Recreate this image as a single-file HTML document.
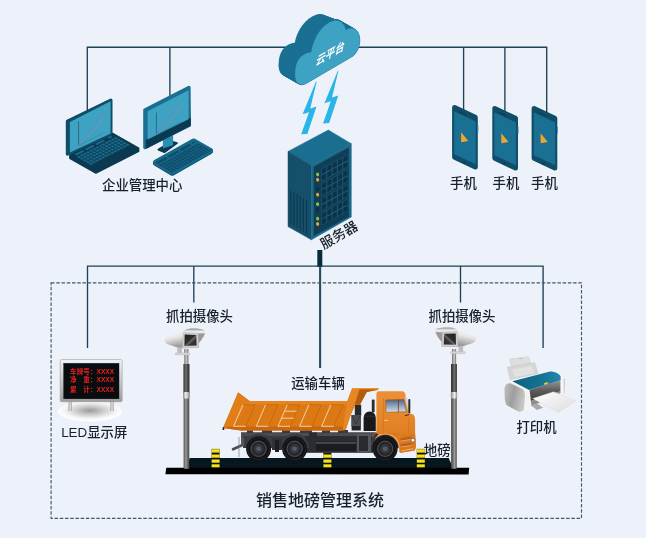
<!DOCTYPE html>
<html lang="zh-CN">
<head>
<meta charset="utf-8">
<title>销售地磅管理系统</title>
<style>
html,body{margin:0;padding:0;background:#edf2fa;}
body{width:646px;height:538px;overflow:hidden;position:relative;font-family:"Liberation Sans","Noto Sans CJK SC",sans-serif;}
svg{position:absolute;left:0;top:0;display:block;}
text{font-family:"Liberation Sans","Noto Sans CJK SC",sans-serif;fill:#18202a;}
#labels,#cloudtxt,#ledtxt{filter:brightness(1.001);}
</style>
</head>
<body>
<svg width="646" height="538" viewBox="0 0 646 538">
<rect width="646" height="538" fill="#edf2fa"/>

<!-- ===== connector lines ===== -->
<g id="lines" fill="none" stroke="#1b4255" stroke-width="1.35">
  <path d="M87.3 121V47.25H546.7V117"/>
  <path d="M169.9 100V47.25"/>
  <path d="M463.6 47.25V110"/>
  <path d="M504.9 47.25V117"/>
  <path d="M87.5 348V266.15H543.1V348"/>
  <path d="M193.8 266.15V302.5"/>
  <path d="M460.5 266.15V302.5"/>
</g>
<path d="M319.8 250V266.8" stroke="#062b3d" stroke-width="5" fill="none"/>
<path d="M320.1 266V368" stroke="#264c5f" stroke-width="2.1" fill="none"/>

<!-- dashed frame -->
<rect x="51.1" y="282.8" width="530.4" height="235.5" fill="none" stroke="#3f5b69" stroke-width="1.15" stroke-dasharray="3.5 1.72"/>

<!-- ===== labels ===== -->
<g id="labels"><g font-size="13.4" font-weight="500" text-anchor="middle">
  <text x="142.2" y="189.5">企业管理中心</text>
  <text x="463.5" y="188">手机</text>
  <text x="506" y="188">手机</text>
  <text x="544.5" y="188">手机</text>
  <text x="199.5" y="320.8">抓拍摄像头</text>
  <text x="462" y="320.8">抓拍摄像头</text>
  <text x="94.3" y="436.5">LED显示屏</text>
  <text x="318" y="387.5">运输车辆</text>
  <text x="437.2" y="454.8">地磅</text>
  <text x="536.5" y="432">打印机</text>
</g>
<text x="320" y="505.5" font-size="16" font-weight="500" text-anchor="middle">销售地磅管理系统</text>
<text x="0" y="0" font-size="13.6" font-weight="500" text-anchor="middle" transform="translate(341.3 239.2) rotate(-30)">服务器</text></g>

<g id="cloud">
<g fill="#1a7093" stroke="#1a7093" stroke-width="0.6">
<path d="M283.30 75.00C280.30 73.70 278.40 68.70 279.00 62.70C279.60 52.70 283.80 44.20 295.10 43.00C296.80 31.77 304.80 18.40 316.80 14.90C323.30 13.10 328.10 17.40 329.70 24.06C333.30 17.70 338.80 18.20 341.80 23.20C345.30 29.70 343.80 39.70 337.30 46.50L290.30 74.00C287.80 75.50 285.30 75.90 283.30 75.00Z"/>
<path d="M283.78 75.27C280.78 73.97 278.88 68.97 279.48 62.97C280.08 52.97 284.28 44.47 295.58 43.27C297.28 32.01 305.28 18.58 317.28 15.08C323.78 13.28 328.58 17.58 330.18 24.24C333.78 17.97 339.28 18.47 342.28 23.47C345.78 29.97 344.28 39.97 337.78 46.77L290.78 74.27C288.28 75.77 285.78 76.17 283.78 75.27Z"/>
<path d="M284.25 75.55C281.25 74.25 279.35 69.25 279.95 63.25C280.55 53.25 284.75 44.75 296.05 43.55C297.75 32.25 305.75 18.76 317.75 15.26C324.25 13.46 329.05 17.76 330.65 24.42C334.25 18.25 339.75 18.75 342.75 23.75C346.25 30.25 344.75 40.25 338.25 47.05L291.25 74.55C288.75 76.05 286.25 76.45 284.25 75.55Z"/>
<path d="M284.73 75.82C281.73 74.52 279.83 69.52 280.43 63.52C281.03 53.52 285.23 45.02 296.53 43.82C298.23 32.49 306.23 18.94 318.23 15.44C324.73 13.64 329.53 17.94 331.13 24.60C334.73 18.52 340.23 19.02 343.23 24.02C346.73 30.52 345.23 40.52 338.73 47.32L291.73 74.82C289.23 76.32 286.73 76.72 284.73 75.82Z"/>
<path d="M285.21 76.09C282.21 74.79 280.31 69.79 280.91 63.79C281.51 53.79 285.71 45.29 297.01 44.09C298.71 32.74 306.71 19.12 318.71 15.62C325.21 13.82 330.01 18.12 331.61 24.78C335.21 18.79 340.71 19.29 343.71 24.29C347.21 30.79 345.71 40.79 339.21 47.59L292.21 75.09C289.71 76.59 287.21 76.99 285.21 76.09Z"/>
<path d="M285.68 76.37C282.68 75.07 280.78 70.07 281.38 64.07C281.98 54.07 286.18 45.57 297.48 44.37C299.18 32.98 307.18 19.30 319.18 15.80C325.68 14.00 330.48 18.30 332.08 24.96C335.68 19.07 341.18 19.57 344.18 24.57C347.68 31.07 346.18 41.07 339.68 47.87L292.68 75.37C290.18 76.87 287.68 77.27 285.68 76.37Z"/>
<path d="M286.16 76.64C283.16 75.34 281.26 70.34 281.86 64.34C282.46 54.34 286.66 45.84 297.96 44.64C299.66 33.22 307.66 19.48 319.66 15.98C326.16 14.18 330.96 18.48 332.56 25.14C336.16 19.34 341.66 19.84 344.66 24.84C348.16 31.34 346.66 41.34 340.16 48.14L293.16 75.64C290.66 77.14 288.16 77.54 286.16 76.64Z"/>
<path d="M286.64 76.91C283.64 75.61 281.74 70.61 282.34 64.61C282.94 54.61 287.14 46.11 298.44 44.91C300.14 33.46 308.14 19.66 320.14 16.16C326.64 14.36 331.44 18.66 333.04 25.32C336.64 19.61 342.14 20.11 345.14 25.11C348.64 31.61 347.14 41.61 340.64 48.41L293.64 75.91C291.14 77.41 288.64 77.81 286.64 76.91Z"/>
<path d="M287.11 77.19C284.11 75.89 282.21 70.89 282.81 64.89C283.41 54.89 287.61 46.39 298.91 45.19C300.61 33.70 308.61 19.84 320.61 16.34C327.11 14.54 331.91 18.84 333.51 25.50C337.11 19.89 342.61 20.39 345.61 25.39C349.11 31.89 347.61 41.89 341.11 48.69L294.11 76.19C291.61 77.69 289.11 78.09 287.11 77.19Z"/>
<path d="M287.59 77.46C284.59 76.16 282.69 71.16 283.29 65.16C283.89 55.16 288.09 46.66 299.39 45.46C301.09 33.95 309.09 20.01 321.09 16.51C327.59 14.71 332.39 19.01 333.99 25.68C337.59 20.16 343.09 20.66 346.09 25.66C349.59 32.16 348.09 42.16 341.59 48.96L294.59 76.46C292.09 77.96 289.59 78.36 287.59 77.46Z"/>
<path d="M288.06 77.74C285.06 76.44 283.16 71.44 283.76 65.44C284.36 55.44 288.56 46.94 299.86 45.74C301.56 34.19 309.56 20.19 321.56 16.69C328.06 14.89 332.86 19.19 334.46 25.86C338.06 20.44 343.56 20.94 346.56 25.94C350.06 32.44 348.56 42.44 342.06 49.24L295.06 76.74C292.56 78.24 290.06 78.64 288.06 77.74Z"/>
<path d="M288.54 78.01C285.54 76.71 283.64 71.71 284.24 65.71C284.84 55.71 289.04 47.21 300.34 46.01C302.04 34.43 310.04 20.37 322.04 16.87C328.54 15.07 333.34 19.37 334.94 26.04C338.54 20.71 344.04 21.21 347.04 26.21C350.54 32.71 349.04 42.71 342.54 49.51L295.54 77.01C293.04 78.51 290.54 78.91 288.54 78.01Z"/>
<path d="M289.02 78.28C286.02 76.98 284.12 71.98 284.72 65.98C285.32 55.98 289.52 47.48 300.82 46.28C302.52 34.67 310.52 20.55 322.52 17.05C329.02 15.25 333.82 19.55 335.42 26.23C339.02 20.98 344.52 21.48 347.52 26.48C351.02 32.98 349.52 42.98 343.02 49.78L296.02 77.28C293.52 78.78 291.02 79.18 289.02 78.28Z"/>
<path d="M289.49 78.56C286.49 77.26 284.59 72.26 285.19 66.26C285.79 56.26 289.99 47.76 301.29 46.56C302.99 34.91 310.99 20.73 322.99 17.23C329.49 15.43 334.29 19.73 335.89 26.41C339.49 21.26 344.99 21.76 347.99 26.76C351.49 33.26 349.99 43.26 343.49 50.06L296.49 77.56C293.99 79.06 291.49 79.46 289.49 78.56Z"/>
<path d="M289.97 78.83C286.97 77.53 285.07 72.53 285.67 66.53C286.27 56.53 290.47 48.03 301.77 46.83C303.47 35.16 311.47 20.91 323.47 17.41C329.97 15.61 334.77 19.91 336.37 26.59C339.97 21.53 345.47 22.03 348.47 27.03C351.97 33.53 350.47 43.53 343.97 50.33L296.97 77.83C294.47 79.33 291.97 79.73 289.97 78.83Z"/>
<path d="M290.45 79.10C287.45 77.80 285.55 72.80 286.15 66.80C286.75 56.80 290.95 48.30 302.25 47.10C303.95 35.40 311.95 21.09 323.95 17.59C330.45 15.79 335.25 20.09 336.85 26.77C340.45 21.80 345.95 22.30 348.95 27.30C352.45 33.80 350.95 43.80 344.45 50.60L297.45 78.10C294.95 79.60 292.45 80.00 290.45 79.10Z"/>
<path d="M290.92 79.38C287.92 78.08 286.02 73.08 286.62 67.08C287.22 57.08 291.42 48.58 302.72 47.38C304.42 35.64 312.42 21.27 324.42 17.77C330.92 15.97 335.72 20.27 337.32 26.95C340.92 22.08 346.42 22.58 349.42 27.58C352.92 34.08 351.42 44.08 344.92 50.88L297.92 78.38C295.42 79.88 292.92 80.28 290.92 79.38Z"/>
<path d="M291.40 79.65C288.40 78.35 286.50 73.35 287.10 67.35C287.70 57.35 291.90 48.85 303.20 47.65C304.90 35.88 312.90 21.45 324.90 17.95C331.40 16.15 336.20 20.45 337.80 27.13C341.40 22.35 346.90 22.85 349.90 27.85C353.40 34.35 351.90 44.35 345.40 51.15L298.40 78.65C295.90 80.15 293.40 80.55 291.40 79.65Z"/>
<path d="M291.88 79.92C288.88 78.62 286.98 73.62 287.58 67.62C288.18 57.62 292.38 49.12 303.68 47.92C305.38 36.13 313.38 21.63 325.38 18.13C331.88 16.33 336.68 20.63 338.28 27.31C341.88 22.62 347.38 23.12 350.38 28.12C353.88 34.62 352.38 44.62 345.88 51.42L298.88 78.92C296.38 80.42 293.88 80.82 291.88 79.92Z"/>
<path d="M292.35 80.20C289.35 78.90 287.45 73.90 288.05 67.90C288.65 57.90 292.85 49.40 304.15 48.20C305.85 36.37 313.85 21.81 325.85 18.31C332.35 16.51 337.15 20.81 338.75 27.49C342.35 22.90 347.85 23.40 350.85 28.40C354.35 34.90 352.85 44.90 346.35 51.70L299.35 79.20C296.85 80.70 294.35 81.10 292.35 80.20Z"/>
<path d="M292.83 80.47C289.83 79.17 287.93 74.17 288.53 68.17C289.13 58.17 293.33 49.67 304.63 48.47C306.33 36.61 314.33 21.99 326.33 18.49C332.83 16.69 337.63 20.99 339.23 27.67C342.83 23.17 348.33 23.67 351.33 28.67C354.83 35.17 353.33 45.17 346.83 51.97L299.83 79.47C297.33 80.97 294.83 81.37 292.83 80.47Z"/>
<path d="M293.31 80.74C290.31 79.44 288.41 74.44 289.01 68.44C289.61 58.44 293.81 49.94 305.11 48.74C306.81 36.85 314.81 22.17 326.81 18.67C333.31 16.87 338.11 21.17 339.71 27.85C343.31 23.44 348.81 23.94 351.81 28.94C355.31 35.44 353.81 45.44 347.31 52.24L300.31 79.74C297.81 81.24 295.31 81.64 293.31 80.74Z"/>
<path d="M293.78 81.02C290.78 79.72 288.88 74.72 289.48 68.72C290.08 58.72 294.28 50.22 305.58 49.02C307.28 37.09 315.28 22.35 327.28 18.85C333.78 17.05 338.58 21.35 340.18 28.03C343.78 23.72 349.28 24.22 352.28 29.22C355.78 35.72 354.28 45.72 347.78 52.52L300.78 80.02C298.28 81.52 295.78 81.92 293.78 81.02Z"/>
<path d="M294.26 81.29C291.26 79.99 289.36 74.99 289.96 68.99C290.56 58.99 294.76 50.49 306.06 49.29C307.76 37.34 315.76 22.53 327.76 19.03C334.26 17.23 339.06 21.53 340.66 28.21C344.26 23.99 349.76 24.49 352.76 29.49C356.26 35.99 354.76 45.99 348.26 52.79L301.26 80.29C298.76 81.79 296.26 82.19 294.26 81.29Z"/>
<path d="M294.74 81.56C291.74 80.26 289.84 75.26 290.44 69.26C291.04 59.26 295.24 50.76 306.54 49.56C308.24 37.58 316.24 22.71 328.24 19.21C334.74 17.41 339.54 21.71 341.14 28.39C344.74 24.26 350.24 24.76 353.24 29.76C356.74 36.26 355.24 46.26 348.74 53.06L301.74 80.56C299.24 82.06 296.74 82.46 294.74 81.56Z"/>
<path d="M295.21 81.84C292.21 80.54 290.31 75.54 290.91 69.54C291.51 59.54 295.71 51.04 307.01 49.84C308.71 37.82 316.71 22.89 328.71 19.39C335.21 17.59 340.01 21.89 341.61 28.57C345.21 24.54 350.71 25.04 353.71 30.04C357.21 36.54 355.71 46.54 349.21 53.34L302.21 80.84C299.71 82.34 297.21 82.74 295.21 81.84Z"/>
<path d="M295.69 82.11C292.69 80.81 290.79 75.81 291.39 69.81C291.99 59.81 296.19 51.31 307.49 50.11C309.19 38.06 317.19 23.06 329.19 19.56C335.69 17.76 340.49 22.06 342.09 28.75C345.69 24.81 351.19 25.31 354.19 30.31C357.69 36.81 356.19 46.81 349.69 53.61L302.69 81.11C300.19 82.61 297.69 83.01 295.69 82.11Z"/>
<path d="M296.16 82.39C293.16 81.09 291.26 76.09 291.86 70.09C292.46 60.09 296.66 51.59 307.96 50.39C309.66 38.30 317.66 23.24 329.66 19.74C336.16 17.94 340.96 22.24 342.56 28.94C346.16 25.09 351.66 25.59 354.66 30.59C358.16 37.09 356.66 47.09 350.16 53.89L303.16 81.39C300.66 82.89 298.16 83.29 296.16 82.39Z"/>
<path d="M296.64 82.66C293.64 81.36 291.74 76.36 292.34 70.36C292.94 60.36 297.14 51.86 308.44 50.66C310.14 38.55 318.14 23.42 330.14 19.92C336.64 18.12 341.44 22.42 343.04 29.12C346.64 25.36 352.14 25.86 355.14 30.86C358.64 37.36 357.14 47.36 350.64 54.16L303.64 81.66C301.14 83.16 298.64 83.56 296.64 82.66Z"/>
<path d="M297.12 82.93C294.12 81.63 292.22 76.63 292.82 70.63C293.42 60.63 297.62 52.13 308.92 50.93C310.62 38.79 318.62 23.60 330.62 20.10C337.12 18.30 341.92 22.60 343.52 29.30C347.12 25.63 352.62 26.13 355.62 31.13C359.12 37.63 357.62 47.63 351.12 54.43L304.12 81.93C301.62 83.43 299.12 83.83 297.12 82.93Z"/>
<path d="M297.59 83.21C294.59 81.91 292.69 76.91 293.29 70.91C293.89 60.91 298.09 52.41 309.39 51.21C311.09 39.03 319.09 23.78 331.09 20.28C337.59 18.48 342.39 22.78 343.99 29.48C347.59 25.91 353.09 26.41 356.09 31.41C359.59 37.91 358.09 47.91 351.59 54.71L304.59 82.21C302.09 83.71 299.59 84.11 297.59 83.21Z"/>
<path d="M298.07 83.48C295.07 82.18 293.17 77.18 293.77 71.18C294.37 61.18 298.57 52.68 309.87 51.48C311.57 39.27 319.57 23.96 331.57 20.46C338.07 18.66 342.87 22.96 344.47 29.66C348.07 26.18 353.57 26.68 356.57 31.68C360.07 38.18 358.57 48.18 352.07 54.98L305.07 82.48C302.57 83.98 300.07 84.38 298.07 83.48Z"/>
<path d="M298.55 83.75C295.55 82.45 293.65 77.45 294.25 71.45C294.85 61.45 299.05 52.95 310.35 51.75C312.05 39.52 320.05 24.14 332.05 20.64C338.55 18.84 343.35 23.14 344.95 29.84C348.55 26.45 354.05 26.95 357.05 31.95C360.55 38.45 359.05 48.45 352.55 55.25L305.55 82.75C303.05 84.25 300.55 84.65 298.55 83.75Z"/>
<path d="M299.02 84.03C296.02 82.73 294.12 77.73 294.72 71.73C295.32 61.73 299.52 53.23 310.82 52.03C312.52 39.76 320.52 24.32 332.52 20.82C339.02 19.02 343.82 23.32 345.42 30.02C349.02 26.73 354.52 27.23 357.52 32.23C361.02 38.73 359.52 48.73 353.02 55.53L306.02 83.03C303.52 84.53 301.02 84.93 299.02 84.03Z"/>
<path d="M299.50 84.30C296.50 83.00 294.60 78.00 295.20 72.00C295.80 62.00 300.00 53.50 311.30 52.30C313.00 40.00 321.00 24.50 333.00 21.00C339.50 19.20 344.30 23.50 345.90 30.20C349.50 27.00 355.00 27.50 358.00 32.50C361.50 39.00 360.00 49.00 353.50 55.80L306.50 83.30C304.00 84.80 301.50 85.20 299.50 84.30Z"/>
</g>
<path d="M299.50 84.30C296.50 83.00 294.60 78.00 295.20 72.00C295.80 62.00 300.00 53.50 311.30 52.30C313.00 40.00 321.00 24.50 333.00 21.00C339.50 19.20 344.30 23.50 345.90 30.20C349.50 27.00 355.00 27.50 358.00 32.50C361.50 39.00 360.00 49.00 353.50 55.80L306.50 83.30C304.00 84.80 301.50 85.20 299.50 84.30Z" fill="#3ea3c3"/>
<g id="cloudtxt"><text font-size="11" font-weight="bold" font-style="italic" text-anchor="middle" style="fill:#fff" transform="matrix(0.866 -0.5 0 1 329.8 57.8)">云平台</text></g>
</g>
<g id="bolts" fill="#2bb4e8">
<polygon points="316.0,81.6 302.6,114.2 309.0,112.2 301.2,134.3 307.4,134.0 316.5,106.4 310.2,108.4 316.6,82.0"/>
<polygon points="337.8,70.7 324.4,103.3 330.8,101.3 323.0,123.4 329.2,123.1 338.3,95.5 332.0,97.5 338.4,71.1"/>
</g>
<g id="server">
<polygon points="328.3,130.0 288.0,151.4 311.4,165.4 351.3,143.7" fill="#1a6f91" stroke="#1a6f91" stroke-width="0.5"/>
<polygon points="288.0,151.4 311.4,165.4 311.4,239.8 288.0,226.6" fill="#164f69" stroke="#164f69" stroke-width="0.5"/>
<polygon points="311.4,165.4 351.3,143.7 351.3,217.0 311.4,239.8" fill="#1b6888" stroke="#1b6888" stroke-width="0.5"/>
<polygon points="313.8,166.7 348.9,147.6 348.9,216.8 313.8,235.9" fill="#103e57"/>
<polygon points="321.4,168.8 348.1,154.2 348.1,166.9 321.4,181.4" fill="#1a5b78"/>
<polygon points="321.9,169.1 326.2,166.7 326.2,171.8 321.9,174.2" fill="#0d3247"/>
<polygon points="321.9,175.4 326.2,173.0 326.2,178.2 321.9,180.5" fill="#0d3247"/>
<polygon points="327.2,166.2 331.6,163.8 331.6,168.9 327.2,171.3" fill="#0d3247"/>
<polygon points="327.2,172.5 331.6,170.1 331.6,175.3 327.2,177.6" fill="#0d3247"/>
<polygon points="332.5,163.3 336.9,160.9 336.9,166.0 332.5,168.4" fill="#0d3247"/>
<polygon points="332.5,169.6 336.9,167.2 336.9,172.3 332.5,174.7" fill="#0d3247"/>
<polygon points="337.9,160.4 342.3,158.0 342.3,163.1 337.9,165.5" fill="#0d3247"/>
<polygon points="337.9,166.7 342.3,164.3 342.3,169.4 337.9,171.8" fill="#0d3247"/>
<polygon points="343.2,157.5 347.6,155.1 347.6,160.2 343.2,162.6" fill="#0d3247"/>
<polygon points="343.2,163.8 347.6,161.4 347.6,166.5 343.2,168.9" fill="#0d3247"/>
<ellipse cx="317.6" cy="174.5" rx="1.5" ry="1.9" fill="#8cc63f" transform="rotate(-20 317.6 174.5)"/>
<ellipse cx="317.6" cy="179.8" rx="1.5" ry="1.9" fill="#f7a030" transform="rotate(-20 317.6 179.8)"/>
<polygon points="321.4,183.6 348.1,169.1 348.1,181.7 321.4,196.3" fill="#1a5b78"/>
<polygon points="321.9,184.0 326.2,181.6 326.2,186.7 321.9,189.1" fill="#0d3247"/>
<polygon points="321.9,190.3 326.2,187.9 326.2,193.0 321.9,195.4" fill="#0d3247"/>
<polygon points="327.2,181.1 331.6,178.7 331.6,183.8 327.2,186.2" fill="#0d3247"/>
<polygon points="327.2,187.4 331.6,185.0 331.6,190.1 327.2,192.5" fill="#0d3247"/>
<polygon points="332.5,178.2 336.9,175.8 336.9,180.9 332.5,183.3" fill="#0d3247"/>
<polygon points="332.5,184.5 336.9,182.1 336.9,187.2 332.5,189.6" fill="#0d3247"/>
<polygon points="337.9,175.2 342.3,172.9 342.3,178.0 337.9,180.4" fill="#0d3247"/>
<polygon points="337.9,181.6 342.3,179.2 342.3,184.3 337.9,186.7" fill="#0d3247"/>
<polygon points="343.2,172.3 347.6,170.0 347.6,175.1 343.2,177.5" fill="#0d3247"/>
<polygon points="343.2,178.7 347.6,176.3 347.6,181.4 343.2,183.8" fill="#0d3247"/>
<ellipse cx="317.6" cy="189.3" rx="1.5" ry="1.9" fill="#0b2f44" transform="rotate(-20 317.6 189.3)"/>
<ellipse cx="317.6" cy="194.7" rx="1.5" ry="1.9" fill="#f7a030" transform="rotate(-20 317.6 194.7)"/>
<polygon points="321.4,198.5 348.1,184.0 348.1,196.6 321.4,211.2" fill="#1a5b78"/>
<polygon points="321.9,198.8 326.2,196.5 326.2,201.6 321.9,204.0" fill="#0d3247"/>
<polygon points="321.9,205.2 326.2,202.8 326.2,207.9 321.9,210.3" fill="#0d3247"/>
<polygon points="327.2,195.9 331.6,193.6 331.6,198.7 327.2,201.1" fill="#0d3247"/>
<polygon points="327.2,202.3 331.6,199.9 331.6,205.0 327.2,207.4" fill="#0d3247"/>
<polygon points="332.5,193.0 336.9,190.6 336.9,195.8 332.5,198.2" fill="#0d3247"/>
<polygon points="332.5,199.4 336.9,197.0 336.9,202.1 332.5,204.5" fill="#0d3247"/>
<polygon points="337.9,190.1 342.3,187.7 342.3,192.9 337.9,195.3" fill="#0d3247"/>
<polygon points="337.9,196.4 342.3,194.1 342.3,199.2 337.9,201.6" fill="#0d3247"/>
<polygon points="343.2,187.2 347.6,184.8 347.6,190.0 343.2,192.4" fill="#0d3247"/>
<polygon points="343.2,193.5 347.6,191.2 347.6,196.3 343.2,198.7" fill="#0d3247"/>
<ellipse cx="317.6" cy="204.2" rx="1.5" ry="1.9" fill="#8cc63f" transform="rotate(-20 317.6 204.2)"/>
<ellipse cx="317.6" cy="209.6" rx="1.5" ry="1.9" fill="#0b2f44" transform="rotate(-20 317.6 209.6)"/>
<polygon points="321.4,212.9 348.1,198.4 348.1,211.1 321.4,225.6" fill="#1a5b78"/>
<polygon points="321.9,213.3 326.2,210.9 326.2,216.0 321.9,218.4" fill="#0d3247"/>
<polygon points="321.9,219.6 326.2,217.2 326.2,222.4 321.9,224.7" fill="#0d3247"/>
<polygon points="327.2,210.4 331.6,208.0 331.6,213.1 327.2,215.5" fill="#0d3247"/>
<polygon points="327.2,216.7 331.6,214.3 331.6,219.4 327.2,221.8" fill="#0d3247"/>
<polygon points="332.5,207.5 336.9,205.1 336.9,210.2 332.5,212.6" fill="#0d3247"/>
<polygon points="332.5,213.8 336.9,211.4 336.9,216.5 332.5,218.9" fill="#0d3247"/>
<polygon points="337.9,204.6 342.3,202.2 342.3,207.3 337.9,209.7" fill="#0d3247"/>
<polygon points="337.9,210.9 342.3,208.5 342.3,213.6 337.9,216.0" fill="#0d3247"/>
<polygon points="343.2,201.7 347.6,199.3 347.6,204.4 343.2,206.8" fill="#0d3247"/>
<polygon points="343.2,208.0 347.6,205.6 347.6,210.7 343.2,213.1" fill="#0d3247"/>
<ellipse cx="317.6" cy="218.7" rx="1.5" ry="1.9" fill="#8cc63f" transform="rotate(-20 317.6 218.7)"/>
<ellipse cx="317.6" cy="224.0" rx="1.5" ry="1.9" fill="#f7a030" transform="rotate(-20 317.6 224.0)"/>
<polygon points="290.2,190.3 291.4,191.0 291.4,224.9 290.2,224.2" fill="#0e3a50"/>
<polygon points="293.4,192.2 294.6,192.9 294.6,226.8 293.4,226.1" fill="#0e3a50"/>
<polygon points="296.5,194.1 297.7,194.8 297.7,228.6 296.5,227.9" fill="#0e3a50"/>
<polygon points="299.7,196.0 300.9,196.7 300.9,230.5 299.7,229.8" fill="#0e3a50"/>
<polygon points="302.9,197.9 304.0,198.6 304.0,232.4 302.9,231.7" fill="#0e3a50"/>
<polygon points="306.0,199.8 307.2,200.5 307.2,234.3 306.0,233.6" fill="#0e3a50"/>
</g>
<g id="laptop">
<polygon points="69.9,155.2 112.6,133.4 138.6,148.2 138.6,151.2 95.9,173.0 69.9,158.2" fill="#0b3a50" stroke="#0b3a50" stroke-width="1.6" stroke-linejoin="round"/>
<g transform="matrix(0.4270 -0.2180 0.2600 0.1480 69.9 155.2)" fill="#186a8c">
<rect x="7" y="5" width="20" height="8" rx="2"/>
<rect x="31" y="5" width="20" height="8" rx="2"/>
<rect x="55" y="5" width="20" height="8" rx="2"/>
<circle cx="88" cy="9" r="4.5"/>
<rect x="4.9" y="18.2" width="5.4" height="9.0"/>
<rect x="12.1" y="18.2" width="5.4" height="9.0"/>
<rect x="19.2" y="18.2" width="5.4" height="9.0"/>
<rect x="26.4" y="18.2" width="5.4" height="9.0"/>
<rect x="33.5" y="18.2" width="5.4" height="9.0"/>
<rect x="40.7" y="18.2" width="5.4" height="9.0"/>
<rect x="47.8" y="18.2" width="5.4" height="9.0"/>
<rect x="55.0" y="18.2" width="5.4" height="9.0"/>
<rect x="62.1" y="18.2" width="5.4" height="9.0"/>
<rect x="69.3" y="18.2" width="5.4" height="9.0"/>
<rect x="76.4" y="18.2" width="5.4" height="9.0"/>
<rect x="83.6" y="18.2" width="5.4" height="9.0"/>
<rect x="90.7" y="18.2" width="5.4" height="9.0"/>
<rect x="4.9" y="29.6" width="5.4" height="9.0"/>
<rect x="12.1" y="29.6" width="5.4" height="9.0"/>
<rect x="19.2" y="29.6" width="5.4" height="9.0"/>
<rect x="26.4" y="29.6" width="5.4" height="9.0"/>
<rect x="33.5" y="29.6" width="5.4" height="9.0"/>
<rect x="40.7" y="29.6" width="5.4" height="9.0"/>
<rect x="47.8" y="29.6" width="5.4" height="9.0"/>
<rect x="55.0" y="29.6" width="5.4" height="9.0"/>
<rect x="62.1" y="29.6" width="5.4" height="9.0"/>
<rect x="69.3" y="29.6" width="5.4" height="9.0"/>
<rect x="76.4" y="29.6" width="5.4" height="9.0"/>
<rect x="83.6" y="29.6" width="5.4" height="9.0"/>
<rect x="90.7" y="29.6" width="5.4" height="9.0"/>
<rect x="4.9" y="41.0" width="5.4" height="9.0"/>
<rect x="12.1" y="41.0" width="5.4" height="9.0"/>
<rect x="19.2" y="41.0" width="5.4" height="9.0"/>
<rect x="26.4" y="41.0" width="5.4" height="9.0"/>
<rect x="33.5" y="41.0" width="5.4" height="9.0"/>
<rect x="40.7" y="41.0" width="5.4" height="9.0"/>
<rect x="47.8" y="41.0" width="5.4" height="9.0"/>
<rect x="55.0" y="41.0" width="5.4" height="9.0"/>
<rect x="62.1" y="41.0" width="5.4" height="9.0"/>
<rect x="69.3" y="41.0" width="5.4" height="9.0"/>
<rect x="76.4" y="41.0" width="5.4" height="9.0"/>
<rect x="83.6" y="41.0" width="5.4" height="9.0"/>
<rect x="90.7" y="41.0" width="5.4" height="9.0"/>
<rect x="4.9" y="52.4" width="5.4" height="9.0"/>
<rect x="12.1" y="52.4" width="5.4" height="9.0"/>
<rect x="19.2" y="52.4" width="5.4" height="9.0"/>
<rect x="26.4" y="52.4" width="5.4" height="9.0"/>
<rect x="33.5" y="52.4" width="5.4" height="9.0"/>
<rect x="40.7" y="52.4" width="5.4" height="9.0"/>
<rect x="47.8" y="52.4" width="5.4" height="9.0"/>
<rect x="55.0" y="52.4" width="5.4" height="9.0"/>
<rect x="62.1" y="52.4" width="5.4" height="9.0"/>
<rect x="69.3" y="52.4" width="5.4" height="9.0"/>
<rect x="76.4" y="52.4" width="5.4" height="9.0"/>
<rect x="83.6" y="52.4" width="5.4" height="9.0"/>
<rect x="90.7" y="52.4" width="5.4" height="9.0"/>
<rect x="4.9" y="63.8" width="5.4" height="9.0"/>
<rect x="12.1" y="63.8" width="5.4" height="9.0"/>
<rect x="19.2" y="63.8" width="5.4" height="9.0"/>
<rect x="26.4" y="63.8" width="5.4" height="9.0"/>
<rect x="33.5" y="63.8" width="5.4" height="9.0"/>
<rect x="40.7" y="63.8" width="5.4" height="9.0"/>
<rect x="47.8" y="63.8" width="5.4" height="9.0"/>
<rect x="55.0" y="63.8" width="5.4" height="9.0"/>
<rect x="62.1" y="63.8" width="5.4" height="9.0"/>
<rect x="69.3" y="63.8" width="5.4" height="9.0"/>
<rect x="76.4" y="63.8" width="5.4" height="9.0"/>
<rect x="83.6" y="63.8" width="5.4" height="9.0"/>
<rect x="90.7" y="63.8" width="5.4" height="9.0"/>
</g>
<polygon points="67.5,121.4 110.8,100.3 110.8,133.6 67.5,154.0" fill="#0f4d69" stroke="#0f4d69" stroke-width="3.4" stroke-linejoin="round"/>
<polygon points="69.9,122.0 110.6,101.3 110.6,133.4 69.9,152.6" fill="#3ea3c3"/>
<polyline points="78.6,121.5 78.6,145.6" fill="none" stroke="#245f7a" stroke-width="0.8"/>
<polyline points="78.6,145.6 104.4,132.4" fill="none" stroke="#2f7590" stroke-width="0.5"/>
<polyline points="78.6,145.6 81.7,140.3 85.1,135.8 88.9,131.8 92.8,126.1 96.7,121.7 100.5,115.3 104.4,111.7" fill="none" stroke="#7b78c8" stroke-width="0.6"/>
<polyline points="78.6,145.6 82.5,141.6 86.3,137.6 91.5,132.9 95.4,129.5 99.2,124.5 101.8,117.6 104.4,113.4" fill="none" stroke="#7f92b0" stroke-width="0.6"/>
<polyline points="78.6,145.6 83.8,141.6 88.9,136.9 94.1,132.6 99.2,128.2 104.4,123.6" fill="none" stroke="#4f93ad" stroke-width="0.5"/>
</g>
<g id="monitor">
<polygon points="158.4,149.6 171.6,141.6 177.0,143.0 164.4,152.2" fill="#0b3a50" stroke="#0b3a50" stroke-width="1.8" stroke-linejoin="round"/>
<polygon points="162.9,140.0 173.1,135.0 173.1,145.3 162.9,148.6" fill="#2a8fb4"/>
<polygon points="144.9,110.0 188.9,87.5 189.3,125.2 144.9,147.4" fill="#1a6f92" stroke="#1a6f92" stroke-width="3.4" stroke-linejoin="round"/>
<polygon points="146.2,140.0 190.4,118.0 190.4,125.6 146.2,148.4" fill="#0b3a50" stroke="#0b3a50" stroke-width="0.8" stroke-linejoin="round"/>
<polygon points="147.6,111.3 188.6,90.2 188.6,119.2 147.6,139.6" fill="#3ea3c3"/>
<polyline points="156.4,112.6 156.4,134.6" fill="none" stroke="#245f7a" stroke-width="0.8"/>
<polyline points="156.4,134.6 180.9,122.1" fill="none" stroke="#2f7590" stroke-width="0.5"/>
<polyline points="156.4,134.6 159.3,129.7 162.5,125.6 166.2,121.8 169.9,116.6 173.5,112.5 177.2,106.6 180.9,103.2" fill="none" stroke="#7b78c8" stroke-width="0.6"/>
<polyline points="156.4,134.6 160.1,130.9 163.7,127.1 168.6,122.8 172.3,119.6 176.0,115.0 178.4,108.6 180.9,104.7" fill="none" stroke="#7f92b0" stroke-width="0.6"/>
<polyline points="156.4,134.6 161.3,130.9 166.2,126.5 171.1,122.4 176.0,118.4 180.9,114.0" fill="none" stroke="#4f93ad" stroke-width="0.5"/>
</g>
<g id="keyboard">
<polygon points="155.6,163.3 193.7,142.1 210.4,151.5 172.3,173.2" fill="#0f5270" stroke="#0f5270" stroke-width="5.2" stroke-linejoin="round"/>
<polygon points="155.6,162.3 193.7,141.1 210.4,150.5 172.3,172.2" fill="#17698b" stroke="#17698b" stroke-width="5.2" stroke-linejoin="round"/>
<g transform="matrix(0.4230 -0.2360 0.1850 0.1090 152.6 163.0)">
<g fill="#104c68">
<rect x="4" y="6" width="24" height="13" rx="2"/>
<rect x="32" y="6" width="24" height="13" rx="2"/>
<rect x="60" y="6" width="24" height="13" rx="2"/>
<circle cx="92" cy="12" r="4.5"/>
<rect x="3.7" y="26.3" width="4.9" height="11.8"/>
<rect x="10.0" y="26.3" width="4.9" height="11.8"/>
<rect x="16.2" y="26.3" width="4.9" height="11.8"/>
<rect x="22.5" y="26.3" width="4.9" height="11.8"/>
<rect x="28.8" y="26.3" width="4.9" height="11.8"/>
<rect x="35.0" y="26.3" width="4.9" height="11.8"/>
<rect x="41.3" y="26.3" width="4.9" height="11.8"/>
<rect x="47.6" y="26.3" width="4.9" height="11.8"/>
<rect x="53.8" y="26.3" width="4.9" height="11.8"/>
<rect x="60.1" y="26.3" width="4.9" height="11.8"/>
<rect x="66.4" y="26.3" width="4.9" height="11.8"/>
<rect x="72.6" y="26.3" width="4.9" height="11.8"/>
<rect x="78.9" y="26.3" width="4.9" height="11.8"/>
<rect x="85.2" y="26.3" width="4.9" height="11.8"/>
<rect x="91.4" y="26.3" width="4.9" height="11.8"/>
<rect x="3.7" y="40.7" width="4.9" height="11.8"/>
<rect x="10.0" y="40.7" width="4.9" height="11.8"/>
<rect x="16.2" y="40.7" width="4.9" height="11.8"/>
<rect x="22.5" y="40.7" width="4.9" height="11.8"/>
<rect x="28.8" y="40.7" width="4.9" height="11.8"/>
<rect x="35.0" y="40.7" width="4.9" height="11.8"/>
<rect x="41.3" y="40.7" width="4.9" height="11.8"/>
<rect x="47.6" y="40.7" width="4.9" height="11.8"/>
<rect x="53.8" y="40.7" width="4.9" height="11.8"/>
<rect x="60.1" y="40.7" width="4.9" height="11.8"/>
<rect x="66.4" y="40.7" width="4.9" height="11.8"/>
<rect x="72.6" y="40.7" width="4.9" height="11.8"/>
<rect x="78.9" y="40.7" width="4.9" height="11.8"/>
<rect x="85.2" y="40.7" width="4.9" height="11.8"/>
<rect x="91.4" y="40.7" width="4.9" height="11.8"/>
<rect x="3.7" y="55.1" width="4.9" height="11.8"/>
<rect x="10.0" y="55.1" width="4.9" height="11.8"/>
<rect x="16.2" y="55.1" width="4.9" height="11.8"/>
<rect x="22.5" y="55.1" width="4.9" height="11.8"/>
<rect x="28.8" y="55.1" width="4.9" height="11.8"/>
<rect x="35.0" y="55.1" width="4.9" height="11.8"/>
<rect x="41.3" y="55.1" width="4.9" height="11.8"/>
<rect x="47.6" y="55.1" width="4.9" height="11.8"/>
<rect x="53.8" y="55.1" width="4.9" height="11.8"/>
<rect x="60.1" y="55.1" width="4.9" height="11.8"/>
<rect x="66.4" y="55.1" width="4.9" height="11.8"/>
<rect x="72.6" y="55.1" width="4.9" height="11.8"/>
<rect x="78.9" y="55.1" width="4.9" height="11.8"/>
<rect x="85.2" y="55.1" width="4.9" height="11.8"/>
<rect x="91.4" y="55.1" width="4.9" height="11.8"/>
<rect x="3.7" y="69.5" width="4.9" height="11.8"/>
<rect x="10.0" y="69.5" width="4.9" height="11.8"/>
<rect x="16.2" y="69.5" width="4.9" height="11.8"/>
<rect x="22.5" y="69.5" width="4.9" height="11.8"/>
<rect x="28.8" y="69.5" width="4.9" height="11.8"/>
<rect x="35.0" y="69.5" width="4.9" height="11.8"/>
<rect x="41.3" y="69.5" width="4.9" height="11.8"/>
<rect x="47.6" y="69.5" width="4.9" height="11.8"/>
<rect x="53.8" y="69.5" width="4.9" height="11.8"/>
<rect x="60.1" y="69.5" width="4.9" height="11.8"/>
<rect x="66.4" y="69.5" width="4.9" height="11.8"/>
<rect x="72.6" y="69.5" width="4.9" height="11.8"/>
<rect x="78.9" y="69.5" width="4.9" height="11.8"/>
<rect x="85.2" y="69.5" width="4.9" height="11.8"/>
<rect x="91.4" y="69.5" width="4.9" height="11.8"/>
<rect x="3.7" y="83.9" width="4.9" height="11.8"/>
<rect x="10.0" y="83.9" width="4.9" height="11.8"/>
<rect x="16.2" y="83.9" width="4.9" height="11.8"/>
<rect x="22.5" y="83.9" width="4.9" height="11.8"/>
<rect x="28.8" y="83.9" width="4.9" height="11.8"/>
<rect x="35.0" y="83.9" width="4.9" height="11.8"/>
<rect x="41.3" y="83.9" width="4.9" height="11.8"/>
<rect x="47.6" y="83.9" width="4.9" height="11.8"/>
<rect x="53.8" y="83.9" width="4.9" height="11.8"/>
<rect x="60.1" y="83.9" width="4.9" height="11.8"/>
<rect x="66.4" y="83.9" width="4.9" height="11.8"/>
<rect x="72.6" y="83.9" width="4.9" height="11.8"/>
<rect x="78.9" y="83.9" width="4.9" height="11.8"/>
<rect x="85.2" y="83.9" width="4.9" height="11.8"/>
<rect x="91.4" y="83.9" width="4.9" height="11.8"/>
</g></g></g>
<g id="phones">
<polygon points="454.6,107.6 475.3,117.3 475.3,167.0 454.6,157.3" fill="#0f4d69" stroke="#0f4d69" stroke-width="5" stroke-linejoin="round"/>
<polygon points="454.2,111.3 475.7,121.4 475.7,164.2 454.2,154.2" fill="#1a7093"/>
<polygon points="461.1,132.2 461.1,142.3 468.3,140.9" fill="#f0a62e"/>
<path d="M459.5 111.6L465.8 114.6" stroke="#0a3a50" stroke-width="1" stroke-linecap="round"/>
<ellipse cx="464.2" cy="162.6" rx="1.3" ry="1" fill="#0a3a50"/>
<path d="M477.9 125.5v7" stroke="#2b8fb6" stroke-width="0.9"/>
<polygon points="494.8,108.6 515.5,118.3 515.5,168.0 494.8,158.3" fill="#0f4d69" stroke="#0f4d69" stroke-width="5" stroke-linejoin="round"/>
<polygon points="494.4,112.3 515.9,122.4 515.9,165.2 494.4,155.2" fill="#1a7093"/>
<polygon points="501.3,133.2 501.3,143.3 508.5,141.9" fill="#f0a62e"/>
<path d="M499.7 112.6L506.0 115.6" stroke="#0a3a50" stroke-width="1" stroke-linecap="round"/>
<ellipse cx="504.4" cy="163.6" rx="1.3" ry="1" fill="#0a3a50"/>
<path d="M518.1 126.5v7" stroke="#2b8fb6" stroke-width="0.9"/>
<polygon points="534.1,108.6 554.8,118.3 554.8,168.0 534.1,158.3" fill="#0f4d69" stroke="#0f4d69" stroke-width="5" stroke-linejoin="round"/>
<polygon points="533.7,112.3 555.2,122.4 555.2,165.2 533.7,155.2" fill="#1a7093"/>
<polygon points="540.6,133.2 540.6,143.3 547.8,141.9" fill="#f0a62e"/>
<path d="M539.0 112.6L545.3 115.6" stroke="#0a3a50" stroke-width="1" stroke-linecap="round"/>
<ellipse cx="543.7" cy="163.6" rx="1.3" ry="1" fill="#0a3a50"/>
<path d="M557.4 126.5v7" stroke="#2b8fb6" stroke-width="0.9"/>
</g>
<g id="led">
<defs>
<radialGradient id="ledsh" cx="0.5" cy="0.45" r="0.5">
<stop offset="0" stop-color="#9a9a9a"/><stop offset="0.45" stop-color="#cfcfcf"/><stop offset="0.8" stop-color="#f4f4f4"/><stop offset="1" stop-color="#ffffff" stop-opacity="0.9"/>
</radialGradient>
<linearGradient id="ledfr" x1="0" y1="0" x2="0" y2="1">
<stop offset="0" stop-color="#f2f2f2"/><stop offset="0.5" stop-color="#c9c9c9"/><stop offset="1" stop-color="#9d9d9d"/>
</linearGradient>
<linearGradient id="ledleg" x1="0" y1="0" x2="1" y2="0">
<stop offset="0" stop-color="#8d8d8d"/><stop offset="0.5" stop-color="#f0f0f0"/><stop offset="1" stop-color="#8d8d8d"/>
</linearGradient>
</defs>
<ellipse cx="90" cy="411.5" rx="32" ry="10" fill="url(#ledsh)"/>
<rect x="68.6" y="401" width="3" height="10" fill="url(#ledleg)"/>
<rect x="110.5" y="401" width="3" height="10" fill="url(#ledleg)"/>
<rect x="60.2" y="359.5" width="62" height="42.2" rx="1.5" fill="url(#ledfr)" stroke="#8f8f8f" stroke-width="0.5"/>
<rect x="63.4" y="363.2" width="55.8" height="35.7" fill="#090d10"/><rect x="63.4" y="363.2" width="55.8" height="0.8" fill="#1b3560"/>
<g id="ledtxt" font-size="6.8" font-weight="bold" style="fill:#e3201c">
<text x="70" y="373.5" style="fill:#e3201c" textLength="44.2" lengthAdjust="spacingAndGlyphs">车牌号：XXXX</text>
<text x="70" y="382.3" style="fill:#e3201c" textLength="44.2" lengthAdjust="spacingAndGlyphs">净　重：XXXX</text>
<text x="70" y="391.6" style="fill:#e3201c" textLength="44.2" lengthAdjust="spacingAndGlyphs">累　计：XXXX</text>
</g>
</g>

<g id="scale">
<polygon points="189.8,458.1 448.7,458.1 453,468 185.6,468" fill="#06171f"/>
<polygon points="166.2,467.8 469.2,467.8 468.6,474.6 165.4,474.2" fill="#000"/>
<g id="bollards">
<g transform="translate(211.6 448.9)"><rect width="8" height="18.6" fill="#111"/><rect y="0.3" width="8" height="3.4" fill="#f6e21a"/><rect y="5.6" width="8" height="3.2" fill="#f6e21a"/><rect y="10.6" width="8" height="3.2" fill="#f6e21a"/><rect y="15.4" width="8" height="3" fill="#f6e21a"/></g>
<g transform="translate(323.4 448.9)"><rect width="8" height="18.6" fill="#111"/><rect y="0.3" width="8" height="3.4" fill="#f6e21a"/><rect y="5.6" width="8" height="3.2" fill="#f6e21a"/><rect y="10.6" width="8" height="3.2" fill="#f6e21a"/><rect y="15.4" width="8" height="3" fill="#f6e21a"/></g>
<g transform="translate(416.8 448.9)"><rect width="8" height="18.6" fill="#111"/><rect y="0.3" width="8" height="3.4" fill="#f6e21a"/><rect y="5.6" width="8" height="3.2" fill="#f6e21a"/><rect y="10.6" width="8" height="3.2" fill="#f6e21a"/><rect y="15.4" width="8" height="3" fill="#f6e21a"/></g>
</g>
</g>

<defs>
<linearGradient id="cambody" x1="0" y1="0" x2="0.25" y2="1">
<stop offset="0" stop-color="#ffffff"/><stop offset="0.5" stop-color="#e6e6e6"/><stop offset="1" stop-color="#9c9c9c"/>
</linearGradient>
<linearGradient id="camhood" x1="0" y1="0" x2="0" y2="1">
<stop offset="0" stop-color="#8a8a8a"/><stop offset="0.14" stop-color="#ececec"/><stop offset="1" stop-color="#c2c2c2"/>
</linearGradient>
<linearGradient id="camwin" x1="0" y1="0" x2="1" y2="1">
<stop offset="0" stop-color="#1e1e1e"/><stop offset="0.45" stop-color="#2e2e2e"/><stop offset="0.55" stop-color="#6a6a6a"/><stop offset="0.65" stop-color="#3a3a3a"/><stop offset="1" stop-color="#222"/>
</linearGradient>
<linearGradient id="poleD" x1="0" y1="0" x2="1" y2="0">
<stop offset="0" stop-color="#505050"/><stop offset="0.4" stop-color="#9a9a9a"/><stop offset="0.7" stop-color="#6c6c6c"/><stop offset="1" stop-color="#444444"/>
</linearGradient>
<linearGradient id="poleU" x1="0" y1="0" x2="1" y2="0">
<stop offset="0" stop-color="#3a3a3a"/><stop offset="0.45" stop-color="#707070"/><stop offset="0.7" stop-color="#4a4a4a"/><stop offset="1" stop-color="#303030"/>
</linearGradient>
<linearGradient id="poleT" x1="0" y1="0" x2="1" y2="0">
<stop offset="0" stop-color="#6a6a6a"/><stop offset="0.45" stop-color="#cdcdcd"/><stop offset="1" stop-color="#707070"/>
</linearGradient>
<linearGradient id="poleL" x1="0" y1="0" x2="1" y2="0">
<stop offset="0" stop-color="#8a8a8a"/><stop offset="0.4" stop-color="#f2f2f2"/><stop offset="1" stop-color="#8a8a8a"/>
</linearGradient>
</defs>
<g id="camL"><rect x="184.3" y="349" width="4.1" height="16" fill="url(#poleT)"/>
<rect x="183.6" y="364" width="5.7" height="104.8" fill="url(#poleD)"/>
<rect x="183.6" y="364" width="5.7" height="29" fill="url(#poleU)"/>
<rect x="183.3" y="392" width="6.3" height="6.6" rx="0.8" fill="url(#poleL)"/><rect x="177.3" y="347.5" width="4.6" height="5.5" fill="#bdbdbd"/>
<rect x="175.1" y="352.8" width="14.8" height="2.1" rx="0.8" fill="#d6d6d6" stroke="#a5a5a5" stroke-width="0.3"/>
<path d="M164.6 339.6 C164.6 338.2 165.2 337.4 166.4 337 L184.7 330.4 L184 348 L177.3 347.5 L167 343.9 C165.4 343.2 164.6 341.6 164.6 339.6Z" fill="url(#cambody)"/>
<path d="M183.4 330.8 L187.6 329 C193 328.3 198.5 328.5 202.6 329.4 C205 330.2 205.9 331.4 205.5 333.2 C204.9 335.4 202.6 338.8 199.4 342.6 L198.8 347.6 L182.4 348.2 Z" fill="url(#camhood)"/>
<path d="M183.2 332.6 L198.1 333.4 L198.5 347.5 L182.5 348 Z" fill="#cfcfcf" stroke="#9a9a9a" stroke-width="0.3"/>
<path d="M198.2 333.5 L204.9 333.2 C204 336 201.8 339.4 199.2 342.4 L198.4 342.4 Z" fill="#9a9a9a"/>
<path d="M184.7 334.6 L196.3 334.9 L196.6 345.6 L184.4 346 Z" fill="url(#camwin)"/></g>
<g id="camR" transform="translate(640.4 0) scale(-1 1)"><rect x="184.3" y="349" width="4.1" height="16" fill="url(#poleT)"/>
<rect x="183.6" y="364" width="5.7" height="104.8" fill="url(#poleD)"/>
<rect x="183.6" y="364" width="5.7" height="29" fill="url(#poleU)"/>
<rect x="183.3" y="392" width="6.3" height="6.6" rx="0.8" fill="url(#poleL)"/><g transform="translate(0 -1.2)"><rect x="177.3" y="347.5" width="4.6" height="5.5" fill="#bdbdbd"/>
<rect x="175.1" y="352.8" width="14.8" height="2.1" rx="0.8" fill="#d6d6d6" stroke="#a5a5a5" stroke-width="0.3"/>
<path d="M164.6 339.6 C164.6 338.2 165.2 337.4 166.4 337 L184.7 330.4 L184 348 L177.3 347.5 L167 343.9 C165.4 343.2 164.6 341.6 164.6 339.6Z" fill="url(#cambody)"/>
<path d="M183.4 330.8 L187.6 329 C193 328.3 198.5 328.5 202.6 329.4 C205 330.2 205.9 331.4 205.5 333.2 C204.9 335.4 202.6 338.8 199.4 342.6 L198.8 347.6 L182.4 348.2 Z" fill="url(#camhood)"/>
<path d="M183.2 332.6 L198.1 333.4 L198.5 347.5 L182.5 348 Z" fill="#cfcfcf" stroke="#9a9a9a" stroke-width="0.3"/>
<path d="M198.2 333.5 L204.9 333.2 C204 336 201.8 339.4 199.2 342.4 L198.4 342.4 Z" fill="#9a9a9a"/>
<path d="M184.7 334.6 L196.3 334.9 L196.6 345.6 L184.4 346 Z" fill="url(#camwin)"/></g></g>
<defs>
<linearGradient id="prTeal" x1="0" y1="0" x2="1" y2="0"><stop offset="0" stop-color="#0f6180"/><stop offset="0.6" stop-color="#147293"/><stop offset="1" stop-color="#2089ae"/></linearGradient>
<linearGradient id="prSide" x1="0" y1="0" x2="1" y2="0.3"><stop offset="0" stop-color="#c0c0c0"/><stop offset="0.5" stop-color="#9e9e9e"/><stop offset="1" stop-color="#c6c6c6"/></linearGradient>
<linearGradient id="prPaper" x1="0" y1="0" x2="1" y2="1"><stop offset="0" stop-color="#ffffff"/><stop offset="1" stop-color="#dcdcdc"/></linearGradient>
<linearGradient id="prSlot" x1="0" y1="0" x2="0" y2="1"><stop offset="0" stop-color="#9a9a9a"/><stop offset="0.5" stop-color="#5c5c5c"/><stop offset="1" stop-color="#3c3c3c"/></linearGradient>
<linearGradient id="prPil" x1="0" y1="0" x2="1" y2="0"><stop offset="0" stop-color="#ffffff"/><stop offset="0.6" stop-color="#ececec"/><stop offset="1" stop-color="#bdbdbd"/></linearGradient>
</defs>
<g id="printer">
<polygon points="509.6,358.9 528.4,356.8 532.9,371.5 513.4,376.8" fill="#dedede" stroke="#c2c2c2" stroke-width="0.4"/>
<polygon points="507.3,367.3 534.7,362.4 537.9,373.6 510.3,379.6" fill="#d6d6d6" stroke="#bcbcbc" stroke-width="0.4"/>
<polygon points="512.4,369.4 531.5,365.9 534.0,372.9 514.5,377.3" fill="#e2e2e2"/>
<polygon points="517.3,358.4 523.6,357.7 520.8,359.5" fill="#c4c4c4"/>
<path d="M504.1 388.2 C504.1 384.0 506.8 381.9 512.4 380.9 L550.7 371.2 L561.6 375.9 C564.2 376.8 565.1 378.4 565.1 381.2 L564.7 394.0 L530.9 410.2 L519.4 412.2 L506.4 405.6 C504.5 403.5 504.1 397.9 504.1 388.2Z" fill="#f3f3f3"/>
<path d="M504.5 388.5 C504.8 384.7 507.5 382.9 510.3 383.3 L522.9 389.3 C524.5 391.0 525.0 393.8 525.0 396.5 L523.6 410.5 L519.4 411.9 L506.7 405.3 C504.8 403.2 504.5 397.9 504.5 388.5Z" fill="url(#prSide)"/>
<polygon points="529.6,389.9 560.5,379.8 560.5,391.3 530.9,401.0" fill="url(#prSlot)"/>
<polygon points="530.9,401.0 560.5,391.3 560.5,393.1 531.5,406.3" fill="#8d8d8d"/>
<path d="M512.4 381.2 L550.0 371.5 C554.9 371.5 559.4 373.6 560.8 376.8 L560.8 380.1 L529.1 389.9Z" fill="url(#prTeal)"/>
<polygon points="560.8,376.8 565.1,379.0 564.7,394.0 560.8,391.8" fill="url(#prPil)"/>
<polygon points="544.0,383.3 547.7,382.1 547.9,383.7 544.3,385.1" fill="#f3cf1a"/>
<polygon points="530.9,405.2 536.8,403.2 543.1,407.7 536.8,409.9" fill="#a9a9a9"/>
<polygon points="532.6,398.6 553.5,391.7 575.8,400.7 558.4,412.6" fill="url(#prPaper)" stroke="#cfcfcf" stroke-width="0.3"/>
</g>
<defs>
<linearGradient id="tkCab" x1="0" y1="0" x2="0" y2="1"><stop offset="0" stop-color="#ec9038"/><stop offset="0.5" stop-color="#e58429"/><stop offset="1" stop-color="#d8741a"/></linearGradient>
<linearGradient id="tkWin" x1="0" y1="0" x2="0" y2="1"><stop offset="0" stop-color="#4f6683"/><stop offset="0.5" stop-color="#8fa3bb"/><stop offset="1" stop-color="#d3dde8"/></linearGradient>
<radialGradient id="tkRim" cx="0.5" cy="0.5" r="0.5"><stop offset="0" stop-color="#3a3e45"/><stop offset="0.3" stop-color="#2a2d32"/><stop offset="0.6" stop-color="#1f2125"/><stop offset="0.85" stop-color="#454950"/><stop offset="1" stop-color="#1c1d20"/></radialGradient>
</defs>
<g id="truck">
<rect x="241" y="432.2" width="137" height="6.5" fill="#4b4c51"/><g fill="#3a3b40"><rect x="247" y="430" width="6" height="3"/><rect x="262" y="430" width="10" height="3"/><rect x="282" y="430" width="8" height="3"/><rect x="300" y="430" width="12" height="3"/><rect x="322" y="430" width="8" height="3"/><rect x="338" y="430" width="10" height="3"/></g>
<rect x="243" y="436" width="62" height="12" fill="#3a3b40"/>
<rect x="305" y="436" width="68" height="16.8" fill="#2c2d31"/>
<rect x="316" y="441.5" width="40" height="9.5" rx="1" fill="#1b1c1f"/>
<rect x="316" y="442.3" width="40" height="1.3" fill="#5a5c62"/>
<rect x="357" y="434" width="14" height="18" fill="#55575d"/>
<rect x="359" y="436" width="9" height="15" fill="#2a2b2f"/>
<rect x="309" y="432.5" width="8" height="5" fill="#2a2b2f"/>
<path d="M233 449.3 L242.5 445" stroke="#4c4c50" stroke-width="2.6" stroke-linecap="round"/>
<path d="M239 437 V457" stroke="#7a7a7d" stroke-width="0.7"/>
<rect x="241" y="438" width="3" height="8" fill="#55565a"/>
<path d="M244.5 448 A14.2 14.2 0 0 1 272.9 448Z" fill="#3b3c41"/>
<path d="M280.7 448 A14.2 14.2 0 0 1 309.09999999999997 448Z" fill="#3b3c41"/>
<rect x="272" y="438" width="10" height="12" fill="#303135"/>
<rect x="275" y="440" width="4" height="12" fill="#1c1d20"/>
<rect x="354.8" y="404.7" width="6.4" height="11" fill="#2a2a2e"/>
<rect x="351.2" y="415" width="9.8" height="11.5" fill="#4b4c51"/>
<path d="M352 415.6 L356 424 L360.2 415.6" fill="none" stroke="#2b2c30" stroke-width="0.7"/>
<rect x="351.6" y="426" width="9.2" height="4.5" fill="#232327"/>
<rect x="371.8" y="399.6" width="2.8" height="13" rx="1" fill="#2a2b2f"/>
<path d="M363.6 419 C363.6 414 366 411.6 369.6 411.4 C373.4 411.6 375.8 414 375.8 419 V431 H363.6Z" fill="#19191c"/>
<path d="M364.6 417.5 C366 415.6 373 415.6 374.8 417.5" fill="none" stroke="#3a3b40" stroke-width="0.7"/>
<polygon points="238.0,392.6 239.2,392.9 249.6,400.9 347.3,401.2 352.3,388.0 378.5,388.0 378.0,389.9 366.8,391.9 359.9,404.7 355.4,404.7 350.6,415.3 345.6,430.0 342.8,430.5 241.0,430.5 222.8,427.9" fill="#dc7915"/>
<polygon points="359.4,389.0 378.2,389.6 366.8,391.9 359.9,404.7 355.0,404.7" fill="#b35c0d"/>
<polygon points="352.3,388.0 359.8,388.0 350.6,415.3 345.6,430.0 342.8,430.0 346.8,402.5" fill="#e68726"/>
<polygon points="352.3,388.0 378.5,388.0 378.2,389.3 352.0,389.3" fill="#ef9330"/>
<polygon points="249.6,400.9 347.3,401.2 346.4,404.6 247.9,404.4" fill="#e8841d"/>
<polygon points="238.0,392.6 249.6,400.9 247.9,404.4 232.6,426.4 224.5,426.2" fill="#e27e18"/>
<polygon points="222.8,427.9 232.0,426.6 343.2,426.6 342.8,430.5 241.0,430.5" fill="#c9670e"/>
<polyline points="242.9,404.8 233.6,426.3 245.8,426.3" fill="none" stroke="#fdebd2" stroke-width="0.75"/>
<polyline points="242.9,404.8 255.1,404.8 245.8,426.3" fill="none" stroke="#b55c0b" stroke-width="0.55"/>
<polyline points="265.6,404.8 256.3,426.3 268.5,426.3" fill="none" stroke="#fdebd2" stroke-width="0.75"/>
<polyline points="265.6,404.8 277.8,404.8 268.5,426.3" fill="none" stroke="#b55c0b" stroke-width="0.55"/>
<polyline points="287.3,404.8 278.0,426.3 290.2,426.3" fill="none" stroke="#fdebd2" stroke-width="0.75"/>
<polyline points="287.3,404.8 299.5,404.8 290.2,426.3" fill="none" stroke="#b55c0b" stroke-width="0.55"/>
<path d="M284.5 411.2 H296.7" stroke="#fdebd2" stroke-width="0.75"/>
<path d="M281.5 418.2 H293.7" stroke="#fdebd2" stroke-width="0.75"/>
<polyline points="308.9,404.8 299.6,426.3 311.8,426.3" fill="none" stroke="#fdebd2" stroke-width="0.75"/>
<polyline points="308.9,404.8 321.1,404.8 311.8,426.3" fill="none" stroke="#b55c0b" stroke-width="0.55"/>
<polyline points="330.9,404.8 321.6,426.3 333.8,426.3" fill="none" stroke="#fdebd2" stroke-width="0.75"/>
<polyline points="330.9,404.8 343.1,404.8 333.8,426.3" fill="none" stroke="#b55c0b" stroke-width="0.55"/>
<rect x="222.6" y="427.4" width="1.6" height="2.6" fill="#222"/>
<path d="M376.4 394.4 C376.4 392.4 377.2 391.3 378.8 391.3 L402.2 391.2 C404 391.2 405 392.4 405.5 394.7 L409.9 413.3 L413.4 414.6 C414.6 416 415.1 418 415.1 420.7 L415.1 434.1 L415.8 444.5 C415.9 447.4 415.4 449.6 414.3 450.4 L401 452.8 L399.5 451.9 L399.5 448.2 A14.4 14.4 0 0 0 372 442 L372.4 436 L376.4 431.4Z" fill="url(#tkCab)"/>
<path d="M371.6 444.5 A14.2 14.2 0 0 1 399.3 446.5" fill="none" stroke="#f2a254" stroke-width="1.6"/>
<path d="M370.8 448.2 L371.2 441 C371.8 437.5 373.4 434.8 376 433 L378.5 434.5 C375 437.5 373.6 442 373.8 448.2Z" fill="#3a3b40"/>
<path d="M399.5 435.4 L415.1 433.2 L415.8 444.5 C415.9 447.4 415.4 449.6 414.3 450.4 L401 452.8 L399.5 451.9Z" fill="#dc771c"/>
<path d="M400.6 438.20000000000005 L411.4 436.6 L411.4 439.20000000000005 L400.6 440.8Z" fill="#b8601a"/>
<path d="M400.6 441.0 L411.4 439.40000000000003" stroke="#f6d0a4" stroke-width="0.5"/>
<path d="M400.6 444.20000000000005 L411.4 442.6 L411.4 445.20000000000005 L400.6 446.8Z" fill="#b8601a"/>
<path d="M400.6 447.0 L411.4 445.40000000000003" stroke="#f6d0a4" stroke-width="0.5"/>
<path d="M401.4 451 L413.4 448.6" stroke="#f6d0a4" stroke-width="0.6"/>
<circle cx="412.9" cy="440.2" r="1.9" fill="#f4f4f4" stroke="#4a4a4a" stroke-width="0.6"/>
<path d="M405.0 395 L407.2 398.5 L410.0 413 L408.6 413.4 L405.4 400Z" fill="#cfd6e0"/>
<path d="M385.8 399.9 L403.9 399.6 L406.2 411.8 L385.8 412.2Z" fill="url(#tkWin)" stroke="#8a4a0c" stroke-width="0.5"/>
<path d="M398.4 399.8 V412" stroke="#6a3a0a" stroke-width="0.7"/>
<path d="M383.4 398.4 V434 M383.4 434 H399" stroke="#c36a14" stroke-width="0.45" fill="none"/>
<path d="M408.8 418 V433.5" stroke="#c36a14" stroke-width="0.45" fill="none"/>
<rect x="384.4" y="419.9" width="3.4" height="0.9" fill="#f6dcb8"/>
<rect x="408.3" y="399" width="2.0" height="14.2" rx="0.8" fill="#2b2b2e"/>
<path d="M404.8 415.8 L409 414.6" stroke="#2b2b2e" stroke-width="1"/>
<path d="M371.8 448.2 A13.4 13.4 0 0 1 398.6 448.2Z" fill="#26272b"/>
<circle cx="258.6" cy="448.8" r="12.5" fill="#131315"/>
<circle cx="258.6" cy="448.8" r="10.9" fill="none" stroke="#2a2c30" stroke-width="0.6"/>
<circle cx="258.6" cy="448.8" r="8.3" fill="#24262b"/>
<circle cx="258.6" cy="448.8" r="7.6" fill="none" stroke="#5d636c" stroke-width="0.7"/>
<circle cx="258.6" cy="448.8" r="4.8" fill="#34373d"/>
<circle cx="258.6" cy="448.8" r="2.4" fill="#555a63"/>
<circle cx="294.6" cy="448.8" r="12.5" fill="#131315"/>
<circle cx="294.6" cy="448.8" r="10.9" fill="none" stroke="#2a2c30" stroke-width="0.6"/>
<circle cx="294.6" cy="448.8" r="8.3" fill="#24262b"/>
<circle cx="294.6" cy="448.8" r="7.6" fill="none" stroke="#5d636c" stroke-width="0.7"/>
<circle cx="294.6" cy="448.8" r="4.8" fill="#34373d"/>
<circle cx="294.6" cy="448.8" r="2.4" fill="#555a63"/>
<circle cx="385.1" cy="448.8" r="12.5" fill="#131315"/>
<circle cx="385.1" cy="448.8" r="10.9" fill="none" stroke="#2a2c30" stroke-width="0.6"/>
<circle cx="385.1" cy="448.8" r="8.3" fill="#24262b"/>
<circle cx="385.1" cy="448.8" r="7.6" fill="none" stroke="#5d636c" stroke-width="0.7"/>
<circle cx="385.1" cy="448.8" r="4.8" fill="#34373d"/>
<circle cx="385.1" cy="448.8" r="2.4" fill="#555a63"/>
</g>
</svg>
</body>
</html>
